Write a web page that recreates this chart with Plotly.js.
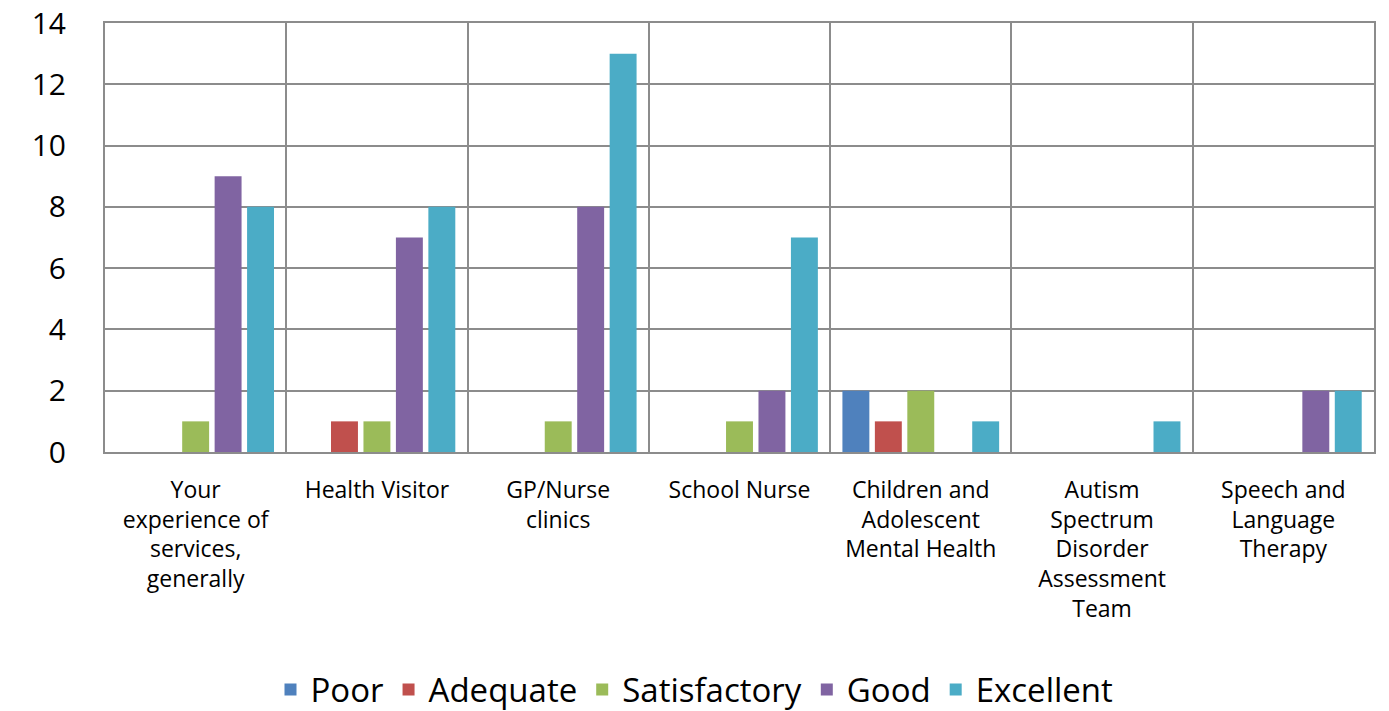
<!DOCTYPE html>
<html>
<head>
<meta charset="utf-8">
<script src="https://cdn.plot.ly/plotly-3.0.1.min.js"></script>
<style>html,body{margin:0;padding:0;background:#fff;}#chart{width:1389px;height:711px;}</style>
</head>
<body>
<div id="chart"></div>
<script>
const categories = [
  "Your<br>experience of<br>services,<br>generally",
  "Health Visitor",
  "GP/Nurse<br>clinics",
  "School Nurse",
  "Children and<br>Adolescent<br>Mental Health",
  "Autism<br>Spectrum<br>Disorder<br>Assessment<br>Team",
  "Speech and<br>Language<br>Therapy"
];
const seriesNames = ["Poor", "Adequate", "Satisfactory", "Good", "Excellent"];
const poor =         [0, 0, 0, 0, 2, 0, 0];
const adequate =     [0, 1, 0, 0, 1, 0, 0];
const satisfactory = [1, 1, 1, 1, 2, 0, 0];
const good =         [9, 7, 8, 2, 0, 0, 2];
const excellent =    [8, 8, 13, 7, 1, 1, 2];
const yTicks = [0, 2, 4, 6, 8, 10, 12, 14];
const colors = ["#4F81BD", "#C0504D", "#9BBB59", "#8064A2", "#4BACC6"];
const values = [poor, adequate, satisfactory, good, excellent];

const traces = values.map((v, i) => ({
  type: "bar",
  name: seriesNames[i],
  x: categories,
  y: v,
  marker: {color: colors[i], line: {width: 0}},
  hoverinfo: "x+y+name"
}));

const layout = {
  width: 1389,
  height: 711,
  margin: {l: 105, r: 15, t: 23, b: 259},
  paper_bgcolor: "#ffffff",
  plot_bgcolor: "#ffffff",
  font: {family: "Open Sans, sans-serif", color: "#000000"},
  barmode: "group",
  bargap: 0.105,
  bargroupgap: 0.17,
  showlegend: true,
  legend: {
    orientation: "h",
    x: 0.5,
    xanchor: "center",
    xref: "container",
    y: 0.03,
    yanchor: "middle",
    yref: "container",
    font: {size: 33, family: "Open Sans, sans-serif", color: "#000"},
    itemwidth: 30,
    traceorder: "normal"
  },
  xaxis: {
    type: "category",
    tickson: "boundaries",
    showgrid: true,
    gridcolor: "#8c8c8c",
    gridwidth: 2,
    showline: true,
    linecolor: "#8c8c8c",
    linewidth: 2,
    mirror: true,
    ticks: "",
    tickangle: 0,
    ticklabelstandoff: 16,
    tickfont: {size: 23, family: "Open Sans, sans-serif", color: "#000"},
    automargin: false
  },
  yaxis: {
    range: [0, 14],
    tickmode: "array",
    tickvals: yTicks,
    ticktext: yTicks.map(String),
    ticklabeloverflow: "allow",
    showgrid: true,
    gridcolor: "#8c8c8c",
    gridwidth: 2,
    showline: true,
    linecolor: "#8c8c8c",
    linewidth: 2,
    mirror: true,
    zeroline: false,
    ticks: "",
    ticklabelstandoff: 31,
    tickfont: {size: 30, family: "Open Sans, sans-serif", color: "#000"},
    automargin: false
  }
};

Plotly.newPlot("chart", traces, layout, {displayModeBar: false, staticPlot: true});
</script>
</body>
</html>
